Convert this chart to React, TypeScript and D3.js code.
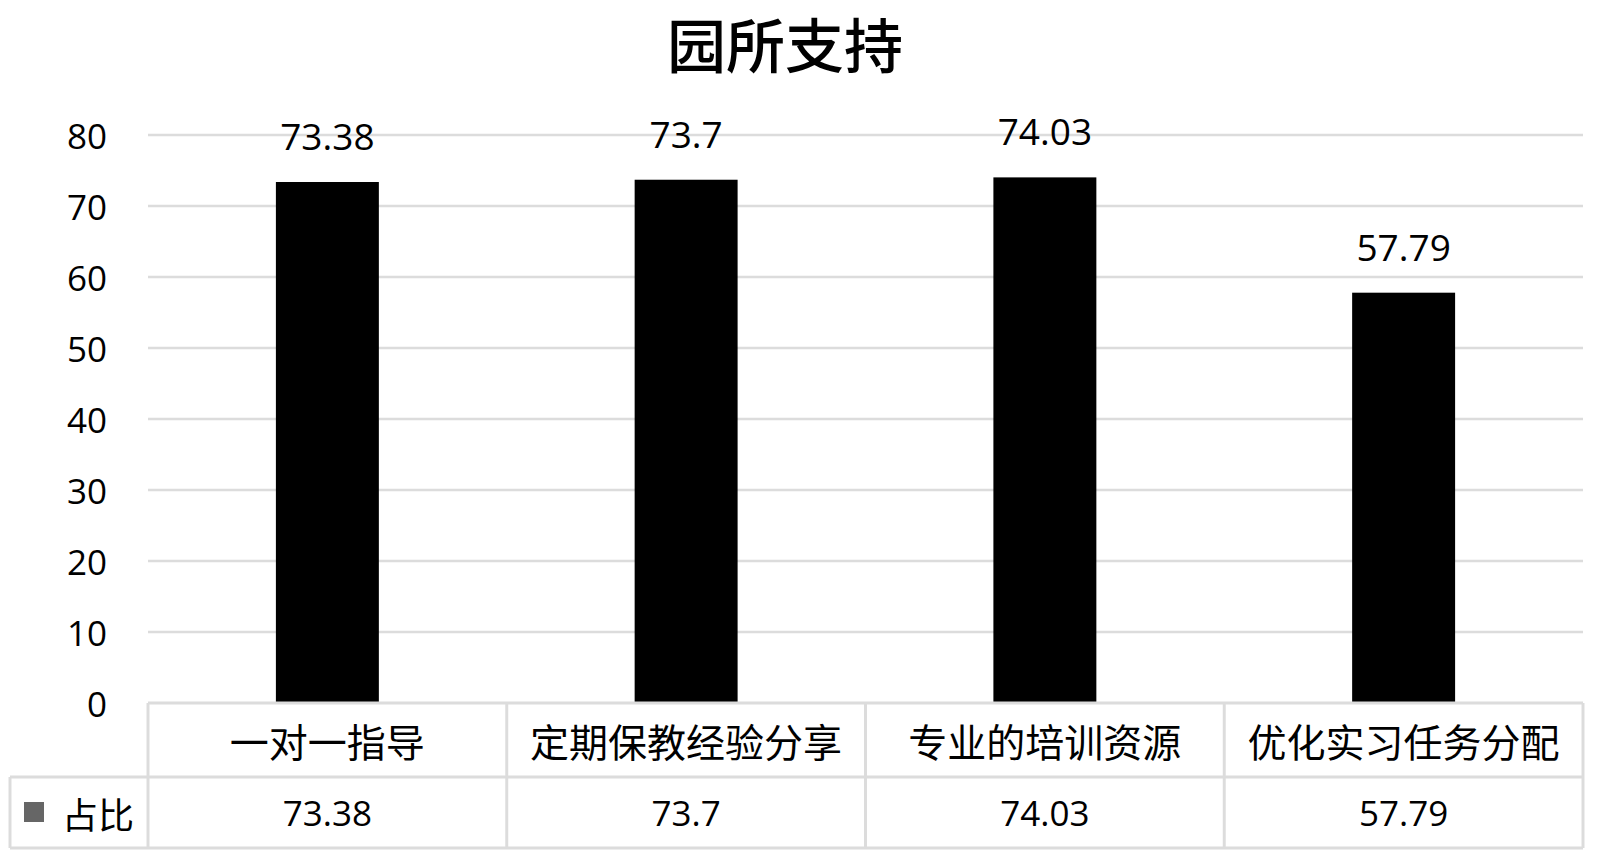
import React from "react";
import * as d3 from "d3";

const title = "园所支持";
const categories = ["一对一指导", "定期保教经验分享", "专业的培训资源", "优化实习任务分配"];
const values = [73.38, 73.7, 74.03, 57.79];
const valueLabels = ["73.38", "73.7", "74.03", "57.79"];
const yTicks = [0, 10, 20, 30, 40, 50, 60, 70, 80];
const seriesName = "占比";

const W = 1600;
const H = 858;
const left = 148;
const right = 1583;
const top = 135;
const bottom = 703;
const row1 = 777;
const row2 = 848;
const legendLeft = 10;

const numFont = "'Open Sans', 'Liberation Sans', sans-serif";
const cjkFont = "'Noto Sans CJK SC', sans-serif";
const gridColor = "#dcdcdc";

export default function App() {
  const x = d3.scaleBand<string>().domain(categories).range([left, right]).paddingInner(0.713).paddingOuter(0.3565);
  const xCol = d3.scaleBand<string>().domain(categories).range([left, right]);
  const y = d3.scaleLinear().domain([0, 80]).range([bottom, top]);

  return (
    <svg width={W} height={H} style={{ position: "absolute", left: 0, top: 0, background: "#fff" }}>
      <rect x={0} y={0} width={W} height={H} fill="#fff" />
      <text x={785} y={68} textAnchor="middle" fontFamily={cjkFont} fontSize={59} fontWeight={500} fill="#000">
        {title}
      </text>
      {yTicks.map((t) => (
        <g key={t}>
          {t > 0 && <line x1={left} x2={right} y1={y(t)} y2={y(t)} stroke={gridColor} strokeWidth={2.5} />}
          <text x={107} y={y(t)} textAnchor="end" dominantBaseline="central" fontFamily={numFont} fontSize={35} fill="#000">
            {t}
          </text>
        </g>
      ))}
      {categories.map((c, i) => (
        <g key={c}>
          <rect x={x(c)} y={y(values[i])} width={x.bandwidth()} height={bottom - y(values[i])} fill="#000" />
          <text x={(x(c) as number) + x.bandwidth() / 2} y={y(values[i]) - 32} textAnchor="middle" fontFamily={numFont} fontSize={37} fill="#000">
            {valueLabels[i]}
          </text>
        </g>
      ))}
      {/* data table */}
      <g stroke={gridColor} strokeWidth={3} fill="none">
        <line x1={left} x2={right} y1={bottom} y2={bottom} />
        <line x1={legendLeft} x2={right} y1={row1} y2={row1} />
        <line x1={legendLeft} x2={right} y1={row2} y2={row2} />
        <line x1={legendLeft} x2={legendLeft} y1={row1} y2={row2} />
        {categories.map((c) => (
          <line key={c} x1={xCol(c)} x2={xCol(c)} y1={bottom} y2={row2} />
        ))}
        <line x1={right} x2={right} y1={bottom} y2={row2} />
      </g>
      {categories.map((c, i) => (
        <g key={"t" + c}>
          <text x={(xCol(c) as number) + xCol.bandwidth() / 2} y={(bottom + row1) / 2} textAnchor="middle" dominantBaseline="central" fontFamily={cjkFont} fontSize={39} fill="#000">
            {c}
          </text>
          <text x={(xCol(c) as number) + xCol.bandwidth() / 2} y={(row1 + row2) / 2} textAnchor="middle" dominantBaseline="central" fontFamily={numFont} fontSize={35} fontWeight={500} fill="#000">
            {valueLabels[i]}
          </text>
        </g>
      ))}
      <rect x={24} y={802} width={20} height={20} fill="#666" />
      <text x={98} y={(row1 + row2) / 2} textAnchor="middle" dominantBaseline="central" fontFamily={cjkFont} fontSize={36} fill="#000">
        {seriesName}
      </text>
    </svg>
  );
}
